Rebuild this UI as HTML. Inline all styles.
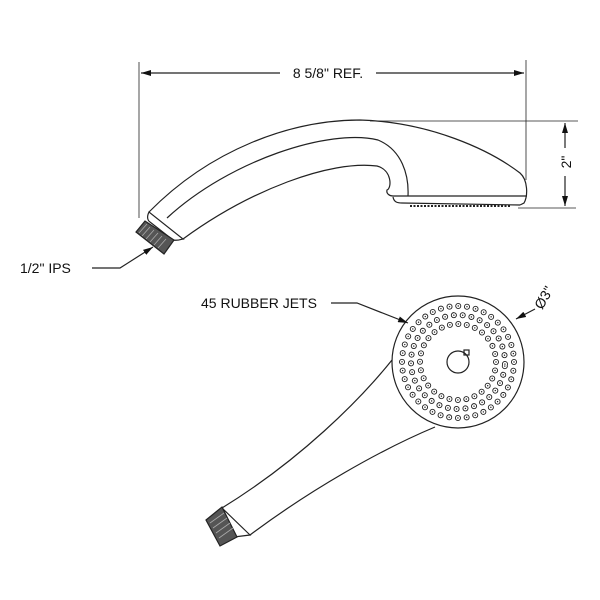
<!DOCTYPE html>
<html><head><style>body{margin:0;background:#fff}svg{display:block}text{font-family:"Liberation Sans",Arial,sans-serif;fill:#111}</style></head>
<body>
<svg width="600" height="600" viewBox="0 0 600 600" xmlns="http://www.w3.org/2000/svg">
<defs>
<marker id="a" markerWidth="10" markerHeight="6" refX="10" refY="3" orient="auto" markerUnits="userSpaceOnUse"><path d="M0,0 L10,3 L0,6 Z" fill="#111"/></marker>
</defs>
<g stroke="#222" fill="none" stroke-width="1.2">
<line x1="139" y1="62" x2="139" y2="218" stroke-width="0.8"/>
<line x1="526" y1="60" x2="526" y2="180" stroke-width="0.8"/>
<line x1="280" y1="73" x2="141" y2="73" marker-end="url(#a)"/>
<line x1="376" y1="73" x2="524" y2="73" marker-end="url(#a)"/>
<line x1="370" y1="121" x2="578" y2="121" stroke-width="0.8"/>
<line x1="518" y1="208" x2="576" y2="208" stroke-width="0.8"/>
<line x1="565" y1="148" x2="565" y2="123" marker-end="url(#a)"/>
<line x1="565" y1="176" x2="565" y2="206" marker-end="url(#a)"/>
<path d="M149,212 C210,150 290,120 360,120 C430,122 490,150 520,173 C528,180 528,196 524,203 L520,205"/>
<path d="M167,218 C230,160 330,128 378,140 C402,150 409,175 408,196"/>
<path d="M183,239 C250,190 330,160 377,166 C392,170 392,188 387,190 C386,194 390,196 393,196"/>
<path d="M393,196 L527,196"/>
<path d="M393,197 C394,202 397,203 402,203 L520,205"/>
<path d="M410,206 L510,206" stroke-dasharray="2,1.5" stroke-width="2"/>
<path d="M149,212 C147,216 147,220 150,222 L173,240 C178,241 182,239 183,239 Z" fill="#fff"/>
<path d="M136,232 L145,221 L174,240 L164,254 Z" fill="#555"/>
<path d="M139,233 L147,224 M142,236 L150,227 M146,239 L154,230 M150,242 L158,233 M154,245 L162,236 M158,248 L166,239" stroke="#aaa" stroke-width="0.8"/>
<path d="M92,268 L120,268 L153,247" marker-end="url(#a)"/>
<path d="M392,360 C360,400 300,460 222,508"/>
<path d="M435,427 C380,450 310,490 250,535"/>
<path d="M222,508 C218,513 222,528 226,538 L250,535 Z" fill="#fff"/>
<path d="M206,520 L222,507 L237,537 L220,546 Z" fill="#555"/>
<path d="M210,523 L224,513 M213,528 L227,518 M216,533 L230,523 M219,538 L233,528" stroke="#aaa" stroke-width="0.8"/>
<circle cx="458" cy="362" r="66" fill="#fff"/>
<circle cx="458" cy="362" r="11"/>
<rect x="464" y="350" width="5" height="5"/>
<path d="M331,303 L357,303 L408,323" marker-end="url(#a)"/>
<line x1="535" y1="309" x2="516" y2="319" marker-end="url(#a)"/>
</g>
<g fill="none" stroke-linecap="round">
<circle cx="458" cy="362" r="56" stroke="#222" stroke-width="6" stroke-dasharray="0 8.796"/>
<circle cx="458" cy="362" r="56" stroke="#fff" stroke-width="4.2" stroke-dasharray="0 8.796"/>
<circle cx="458" cy="362" r="56" stroke="#222" stroke-width="1.4" stroke-dasharray="0 8.796"/>
<circle cx="458" cy="362" r="47" stroke="#222" stroke-width="6" stroke-dasharray="0 8.870" transform="rotate(5 458 362)"/>
<circle cx="458" cy="362" r="47" stroke="#fff" stroke-width="4.2" stroke-dasharray="0 8.870" transform="rotate(5 458 362)"/>
<circle cx="458" cy="362" r="47" stroke="#222" stroke-width="1.4" stroke-dasharray="0 8.870" transform="rotate(5 458 362)"/>
<circle cx="458" cy="362" r="38" stroke="#222" stroke-width="6" stroke-dasharray="0 8.530"/>
<circle cx="458" cy="362" r="38" stroke="#fff" stroke-width="4.2" stroke-dasharray="0 8.530"/>
<circle cx="458" cy="362" r="38" stroke="#222" stroke-width="1.4" stroke-dasharray="0 8.530"/>
</g>
<text x="328" y="78" font-size="14" text-anchor="middle">8 5/8" REF.</text>
<text x="0" y="0" font-size="14" text-anchor="middle" transform="translate(571,162) rotate(-90)">2"</text>
<text x="20" y="273" font-size="14">1/2" IPS</text>
<text x="201" y="308" font-size="14">45 RUBBER JETS</text>
<text x="0" y="0" font-size="14" text-anchor="middle" transform="translate(548,300) rotate(-60)">Ø3"</text>
</svg>
</body></html>
